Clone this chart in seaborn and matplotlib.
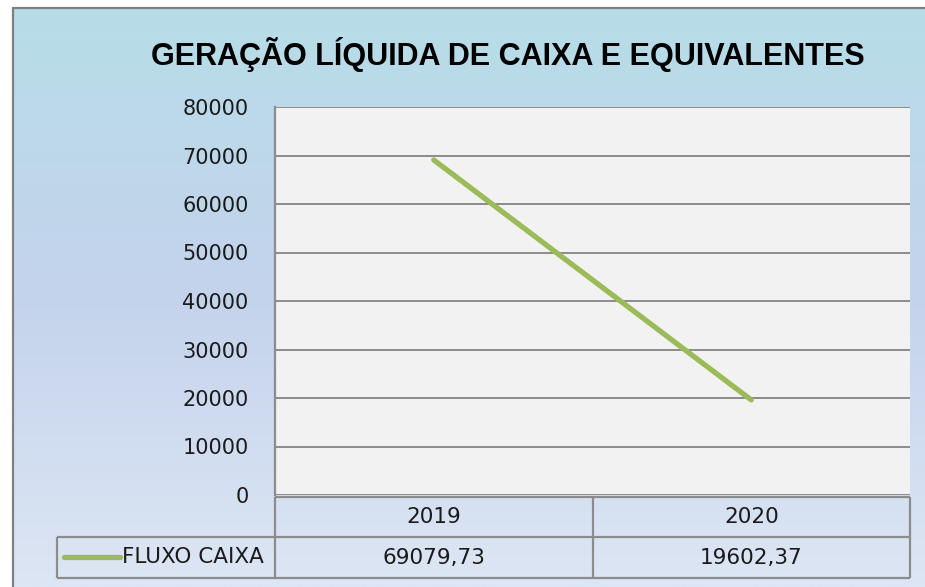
import matplotlib
matplotlib.use("Agg")
import matplotlib.pyplot as plt
import matplotlib.transforms as mtransforms
from matplotlib.colors import LinearSegmentedColormap
from matplotlib.lines import Line2D
import numpy as np
import seaborn as sns

# chart data
TITLE = "GERAÇÃO LÍQUIDA DE CAIXA E EQUIVALENTES"
SERIES_NAME = "FLUXO CAIXA"
YEARS = ["2019", "2020"]
FLUXO_CAIXA = [69079.73, 19602.37]
Y_TICKS = [0, 10000, 20000, 30000, 40000, 50000, 60000, 70000, 80000]

W, H = 925, 587
LINE_GREEN = "#9bbb59"
GRID_GRAY = "#8c8c8c"
TEXT = "#1a1a1a"


def fy(py):
    # pixel row (from top) -> figure fraction
    return 1 - py / H


def fx(px):
    return px / W


sns.set_theme(style="white")
plt.rcParams["font.family"] = ["DejaVu Sans"]

fig = plt.figure(figsize=(W / 100, H / 100), dpi=100)
fig.patch.set_facecolor("white")

# gradient background of the chart area
bg = fig.add_axes([fx(13), 0, 1 - fx(13), fy(8)])
grad = LinearSegmentedColormap.from_list(
    "bg", ["#b7dde8", "#c4d3ec", "#dde6f4"]
)
bg.imshow(np.linspace(0, 1, 256).reshape(-1, 1), aspect="auto", cmap=grad,
          extent=[0, 1, 0, 1], origin="upper")
bg.set_axis_off()
fig.add_artist(Line2D([fx(13), fx(13)], [0, fy(8)], color="#808080", lw=1.6,
                      transform=fig.transFigure))
fig.add_artist(Line2D([fx(13), 1], [fy(8), fy(8)], color="#808080", lw=1.6,
                      transform=fig.transFigure))

# plot area
ax = fig.add_axes([fx(275), fy(495), fx(910) - fx(275), fy(107) - fy(495)])
ax.set_facecolor("#f2f2f2")
sns.lineplot(x=YEARS, y=FLUXO_CAIXA, ax=ax, color=LINE_GREEN, lw=3.8,
             solid_capstyle="round")
ax.set_xlim(-0.5, len(YEARS) - 0.5)
ax.set_ylim(Y_TICKS[0], Y_TICKS[-1])
ax.set_yticks(Y_TICKS)
ax.set_yticklabels([str(t) for t in Y_TICKS], fontsize=15, color=TEXT)
ax.set_xticks([])
ax.set_xlabel("")
ax.set_ylabel("")
ax.tick_params(axis="y", length=0, pad=19)
ax.grid(axis="y", color=GRID_GRAY, lw=1.4)
ax.set_axisbelow(True)
for side in ["top", "right", "bottom"]:
    ax.spines[side].set_visible(False)
ax.spines["left"].set_color(GRID_GRAY)
ax.spines["left"].set_linewidth(1.6)

fig.suptitle(TITLE, x=fx(508), y=fy(55), va="center", fontsize=22,
             fontweight="bold", color="black",
             family=["Liberation Sans", "DejaVu Sans"])

# data table under the plot
tr = mtransforms.blended_transform_factory(ax.transData, fig.transFigure)
n = len(YEARS)
row_top, row_mid, row_bot = fy(497), fy(537), fy(578)
tbl = dict(color=GRID_GRAY, lw=1.6, solid_capstyle="butt")
fig.add_artist(Line2D([-0.5, n - 0.5], [row_top, row_top], transform=tr, **tbl))
for x in np.arange(n + 1) - 0.5:
    fig.add_artist(Line2D([x, x], [row_top, row_bot], transform=tr, **tbl))
# row label cell spans from the left edge
left = fx(57)
right = ax.transData.transform((n - 0.5, 0))[0] / W
for yy in (row_mid, row_bot):
    fig.add_artist(Line2D([left, right], [yy, yy], transform=fig.transFigure, **tbl))
fig.add_artist(Line2D([left, left], [row_mid, row_bot], transform=fig.transFigure, **tbl))

table_font = dict(fontsize=15.5, color=TEXT, va="center", ha="center")
for i, (yr, val) in enumerate(zip(YEARS, FLUXO_CAIXA)):
    fig.text(i, (row_top + row_mid) / 2, yr, transform=tr, **table_font)
    fig.text(i, (row_mid + row_bot) / 2, f"{val:.2f}".replace(".", ","),
             transform=tr, **table_font)

# legend key in the row label cell
fig.add_artist(Line2D([fx(64), fx(120)], [fy(557), fy(557)], color=LINE_GREEN,
                      lw=3.8, solid_capstyle="round", transform=fig.transFigure))
fig.text(fx(122), fy(557), SERIES_NAME, fontsize=15.5, color=TEXT, va="center",
         ha="left")

fig.savefig("out.png", dpi=100)
